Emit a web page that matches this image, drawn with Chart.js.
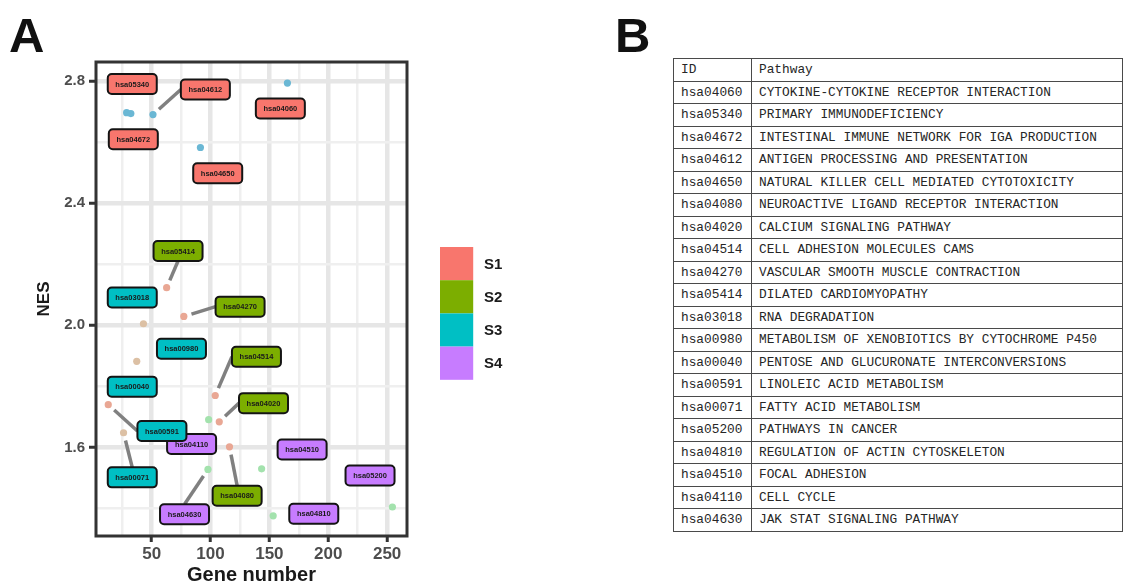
<!DOCTYPE html>
<html>
<head>
<meta charset="utf-8">
<script src="https://cdn.jsdelivr.net/npm/chart.js@4.4.1/dist/chart.umd.min.js"></script>
<style>
    html, body { margin: 0; padding: 0; background: #fff; }
    body { width: 1124px; height: 588px; position: relative; overflow: hidden; }
    #wrapA { position: absolute; left: 0; top: 0; width: 600px; height: 588px; }
    .tag { position: absolute; font: bold 49px "Liberation Sans", Arial, sans-serif; color: #111; line-height: 1; }
    #tagA { left: 9px; top: 11px; }
    #tagB { left: 615px; top: 11px; }
    #pathTable { position: absolute; left: 673px; top: 58px; width: 450px; border-collapse: collapse;
                 font: 12.8px "Liberation Mono", monospace; color: #262626; }
    #pathTable td { border: 1px solid #4a4a4a; height: 21.5px; padding: 0 0 0 7px; white-space: nowrap; }
    #pathTable td:first-child { width: 70px; }
</style>
</head>
<body>
<div id="tagA" class="tag">A</div>
<div id="tagB" class="tag">B</div>
<div id="wrapA"><canvas id="chartA" width="600" height="588"></canvas></div>
<table id="pathTable"></table>
<script>
// points: gene number vs NES
const geneNumber = [28.7, 32.3, 51.1, 91.4, 165.3, 62.7, 77.3, 43.0, 37.3, 13.1, 26.1, 104.0, 98.4, 107.4, 116.1, 97.8, 143.4, 153.2, 254.5];
const nes        = [2.696, 2.693, 2.690, 2.582, 2.793, 2.123, 2.029, 2.005, 1.882, 1.740, 1.648, 1.770, 1.691, 1.684, 1.602, 1.528, 1.530, 1.376, 1.405];
const dotTone    = ['blue', 'blue', 'blue', 'blue', 'blue', 'salmon', 'salmon', 'tan', 'tan', 'salmon', 'tan', 'salmon', 'green', 'salmon', 'salmon', 'green', 'green', 'green', 'green'];

// repelled labels (position in data units, linked point or -1)
const labelIds    = ['hsa05340', 'hsa04612', 'hsa04060', 'hsa04672', 'hsa04650', 'hsa05414', 'hsa03018', 'hsa04270', 'hsa00980', 'hsa04514',
                     'hsa00040', 'hsa04020', 'hsa04110', 'hsa00591', 'hsa04510', 'hsa00071', 'hsa05200', 'hsa04080', 'hsa04630', 'hsa04810'];
const labelGroups = ['S1', 'S1', 'S1', 'S1', 'S1', 'S2', 'S3', 'S2', 'S3', 'S2', 'S3', 'S2', 'S4', 'S3', 'S4', 'S3', 'S4', 'S2', 'S4', 'S4'];
const labelGene   = [33.5, 95.6, 159.3, 34.4, 106.1, 72.4, 33.5, 125.1, 75.3, 139.0, 33.5, 145.0, 83.9, 58.7, 177.8, 33.5, 235.5, 122.6, 77.9, 187.7];
const labelNes    = [2.790, 2.772, 2.710, 2.609, 2.498, 2.243, 2.091, 2.061, 1.923, 1.897, 1.799, 1.745, 1.611, 1.654, 1.593, 1.502, 1.508, 1.442, 1.381, 1.383];
const labelLink   = [-1, 2, -1, -1, -1, 5, -1, 6, -1, 11, -1, 13, -1, 9, -1, 10, -1, 14, 15, -1];

const groupNames = ['S1', 'S2', 'S3', 'S4'];
const xTickLabels = [50, 100, 150, 200, 250];
const yTickLabels = [1.6, 2.0, 2.4, 2.8];

const tableIds = ['hsa04060', 'hsa05340', 'hsa04672', 'hsa04612', 'hsa04650', 'hsa04080', 'hsa04020', 'hsa04514', 'hsa04270', 'hsa05414',
                  'hsa03018', 'hsa00980', 'hsa00040', 'hsa00591', 'hsa00071', 'hsa05200', 'hsa04810', 'hsa04510', 'hsa04110', 'hsa04630'];
const tablePathways = ['CYTOKINE-CYTOKINE RECEPTOR INTERACTION', 'PRIMARY IMMUNODEFICIENCY', 'INTESTINAL IMMUNE NETWORK FOR IGA PRODUCTION',
                       'ANTIGEN PROCESSING AND PRESENTATION', 'NATURAL KILLER CELL MEDIATED CYTOTOXICITY', 'NEUROACTIVE LIGAND RECEPTOR INTERACTION',
                       'CALCIUM SIGNALING PATHWAY', 'CELL ADHESION MOLECULES CAMS', 'VASCULAR SMOOTH MUSCLE CONTRACTION', 'DILATED CARDIOMYOPATHY',
                       'RNA DEGRADATION', 'METABOLISM OF XENOBIOTICS BY CYTOCHROME P450', 'PENTOSE AND GLUCURONATE INTERCONVERSIONS',
                       'LINOLEIC ACID METABOLISM', 'FATTY ACID METABOLISM', 'PATHWAYS IN CANCER', 'REGULATION OF ACTIN CYTOSKELETON',
                       'FOCAL ADHESION', 'CELL CYCLE', 'JAK STAT SIGNALING PATHWAY'];

const toneColors = { blue: '#6ab7d4', salmon: '#e9a794', tan: '#dcc0a4', green: '#a3e2ad' };
const groupColors = { S1: '#f8766d', S2: '#7cae00', S3: '#00bfc4', S4: '#c77cff' };
const BOX_W = 49, BOX_H = 20;

const isMajorX = v => xTickLabels.includes(v);
const isMajorY = v => yTickLabels.includes(Math.round(v * 10) / 10);

const repelLabels = {
    id: 'repelLabels',
    afterDatasetsDraw(chart) {
        const { ctx, scales: { x, y } } = chart;
        const boxes = labelIds.map((id, i) => ({
            id: id,
            cx: x.getPixelForValue(labelGene[i]),
            cy: y.getPixelForValue(labelNes[i]),
            fill: groupColors[labelGroups[i]],
            link: labelLink[i]
        }));
        ctx.save();
        ctx.strokeStyle = '#808080';
        ctx.lineWidth = 3.5;
        for (const b of boxes) {
            if (b.link < 0) continue;
            const px = x.getPixelForValue(geneNumber[b.link]);
            const py = y.getPixelForValue(nes[b.link]);
            const mids = [[b.cx - BOX_W / 2, b.cy], [b.cx + BOX_W / 2, b.cy], [b.cx, b.cy - BOX_H / 2], [b.cx, b.cy + BOX_H / 2]];
            let best = mids[0], bd = Infinity;
            for (const m of mids) {
                const d = Math.hypot(m[0] - px, m[1] - py);
                if (d < bd) { bd = d; best = m; }
            }
            const pad = 8;
            ctx.beginPath();
            ctx.moveTo(px + (best[0] - px) * pad / bd, py + (best[1] - py) * pad / bd);
            ctx.lineTo(best[0], best[1]);
            ctx.stroke();
        }
        ctx.font = 'bold 7.5px "Liberation Sans", Arial, sans-serif';
        ctx.textAlign = 'center';
        ctx.textBaseline = 'middle';
        for (const b of boxes) {
            ctx.beginPath();
            ctx.roundRect(b.cx - BOX_W / 2, b.cy - BOX_H / 2, BOX_W, BOX_H, 4);
            ctx.fillStyle = b.fill;
            ctx.fill();
            ctx.lineWidth = 2;
            ctx.strokeStyle = '#141414';
            ctx.stroke();
            ctx.fillStyle = '#1a1a1a';
            ctx.fillText(b.id, b.cx, b.cy + 0.5);
        }
        ctx.restore();
    }
};

const panelFrame = {
    id: 'panelFrame',
    afterDraw(chart) {
        const { ctx, chartArea: a } = chart;
        ctx.save();
        ctx.lineWidth = 3;
        ctx.strokeStyle = '#333';
        ctx.strokeRect(a.left, a.top, a.right - a.left, a.bottom - a.top);
        // group legend
        const lx = 440, ly = 247, size = 33.2;
        ctx.font = 'bold 15px "Liberation Sans", Arial, sans-serif';
        ctx.textBaseline = 'middle';
        groupNames.forEach((g, i) => {
            ctx.fillStyle = groupColors[g];
            ctx.fillRect(lx, ly + i * size, size, size);
            ctx.fillStyle = '#1a1a1a';
            ctx.fillText(g, lx + 44, ly + i * size + size / 2 + 1);
        });
        ctx.restore();
    }
};

function buildTable() {
    const table = document.querySelector('#pathTable');
    const rows = [['ID', 'Pathway']].concat(tableIds.map((id, i) => [id, tablePathways[i]]));
    table.innerHTML = rows.map(r => `<tr><td>${r[0]}</td><td>${r[1]}</td></tr>`).join('');
}

function main() {
    buildTable();
    new Chart(document.querySelector('#chartA'), {
        type: 'scatter',
        data: {
            datasets: [{
                data: geneNumber.map((g, i) => ({ x: g, y: nes[i] })),
                pointBackgroundColor: dotTone.map(t => toneColors[t]),
                pointBorderWidth: 0,
                pointRadius: 3.6
            }]
        },
        options: {
            responsive: false,
            animation: false,
            devicePixelRatio: 1,
            layout: { padding: { left: 0, top: 62, right: 193, bottom: 0 } },
            plugins: { legend: { display: false }, tooltip: { enabled: false } },
            scales: {
                x: {
                    type: 'linear', min: 2.7, max: 266.9,
                    afterFit: s => { s.height = 52; },
                    border: { display: false },
                    grid: {
                        color: c => isMajorX(c.tick.value) ? '#e6e6e6' : '#efefef',
                        lineWidth: c => isMajorX(c.tick.value) ? 4.5 : 2.5,
                        tickLength: 6,
                        tickWidth: 3,
                        tickColor: c => isMajorX(c.tick.value) ? '#333' : 'rgba(0,0,0,0)'
                    },
                    ticks: {
                        stepSize: 25, includeBounds: false, autoSkip: false, maxRotation: 0, padding: 2,
                        color: '#4d4d4d',
                        font: { family: '"Liberation Sans", Arial, sans-serif', size: 17, weight: 'bold' },
                        callback: v => isMajorX(v) ? String(v) : ''
                    },
                    title: {
                        display: true, text: 'Gene number', color: '#1a1a1a',
                        font: { family: '"Liberation Sans", Arial, sans-serif', size: 20, weight: 'bold' },
                        padding: { top: 0, bottom: 1 }
                    }
                },
                y: {
                    type: 'linear', min: 1.31, max: 2.862,
                    afterFit: s => { s.width = 96; },
                    border: { display: false },
                    grid: {
                        color: c => isMajorY(c.tick.value) ? '#e6e6e6' : '#efefef',
                        lineWidth: c => isMajorY(c.tick.value) ? 4.5 : 2.5,
                        tickLength: 7,
                        tickWidth: 3,
                        tickColor: c => isMajorY(c.tick.value) ? '#333' : 'rgba(0,0,0,0)'
                    },
                    ticks: {
                        stepSize: 0.2, includeBounds: false, autoSkip: false, padding: 4,
                        color: '#4d4d4d',
                        font: { family: '"Liberation Sans", Arial, sans-serif', size: 15, weight: 'bold' },
                        callback: v => isMajorY(v) ? (Math.round(v * 10) / 10).toFixed(1) : ''
                    },
                    title: {
                        display: true, text: 'NES', color: '#1a1a1a',
                        font: { family: '"Liberation Sans", Arial, sans-serif', size: 17, weight: 'bold' },
                        padding: { top: 34, bottom: 0 }
                    }
                }
            }
        },
        plugins: [repelLabels, panelFrame]
    });
}

window.onload = main;
</script>
</body>
</html>
